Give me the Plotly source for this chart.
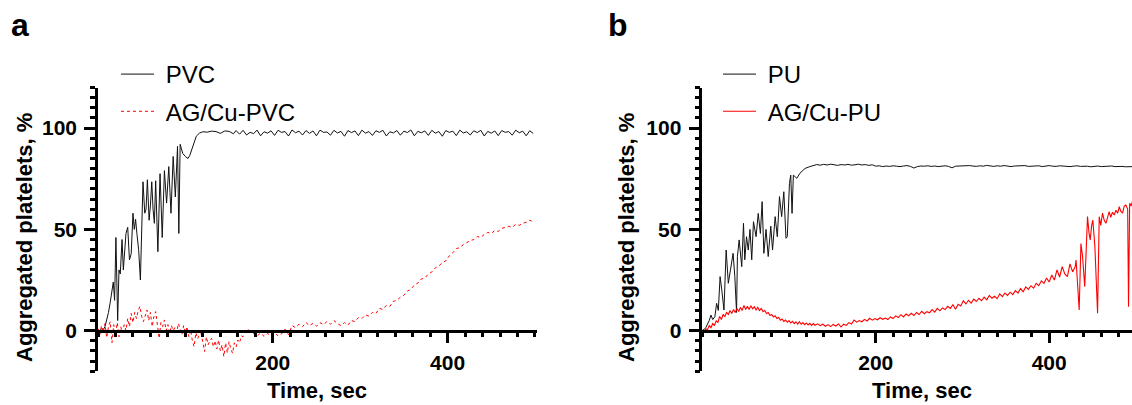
import plotly.graph_objects as go

# ---------------- data ----------------
# Panel a: PVC (black)
PVC_T = [0, 2, 4, 6, 8, 10, 12, 14, 16, 17.5, 19, 20.5, 22.5, 24, 25.5, 27.5, 29, 30.5, 32, 34,
         36, 38, 40, 41.5, 43, 44.5, 46.5, 48.5, 50, 51.5, 53.5, 55, 56.5, 58.5, 60, 61.5, 63,
         64.5, 66, 68.5, 71, 73.5, 76, 78.5, 81, 83.5, 86, 88.5, 91, 92.5, 94, 97, 100, 103,
         105, 107.5, 110, 112.5, 116, 120, 125, 130, 135, 140, 145, 150, 155, 158] + list(range(162, 500, 4))
PVC_V = [0.5, 0, 1, 0.5, 2, 5, 9, 14, 20, 24, 15, 46, 5, 30, 28, 45, 30, 38, 48, 51,
         35, 38, 58, 50, 55, 48, 40, 25, 55, 73.5, 58, 60, 74.5, 54.5, 62, 73.5, 60,
         53, 74, 39, 77.5, 46, 79, 63, 81, 58, 86, 66, 91, 48, 92, 87.5, 86, 85,
         86.5, 90, 93, 96, 97.5, 98.2, 98, 98.5, 98.3, 97.4, 98.6, 98.4, 97.2, 98.8,
         97.0, 98.9, 96.6, 97.9, 97.3, 99.0, 96.2, 98.2, 97.5, 98.7, 96.4, 98.9, 97.9, 98.3,
         96.1, 99.1, 97.7, 98.5, 96.6, 98.8, 97.4, 98.6, 96.2, 99.0, 97.9, 98.1, 96.5, 98.9,
         97.6, 98.4, 96.0, 98.8, 97.8, 98.6, 96.3, 99.0, 97.5, 98.3, 96.4, 98.7, 97.9, 98.9,
         96.1, 98.2, 97.6, 98.8, 96.5, 98.5, 97.8, 99.1, 96.2, 98.4, 97.7, 98.6, 96.4, 98.9,
         97.5, 98.3, 96.0, 98.8, 97.9, 98.5, 96.3, 99.0, 97.6, 98.2, 96.6, 98.7, 97.8, 98.9,
         96.1, 98.4, 97.5, 98.6, 96.3, 98.8, 97.9, 98.3, 96.5, 99.0, 97.7, 98.5, 96.2, 98.7,
         97.4]

# Panel a: AG/Cu-PVC (red dotted)
AGPVC_T = list(range(0, 178, 2)) + list(range(178, 500, 4))
AGPVC_V = [1, -2, 2.5, -1, 3.5, -3.5, 2, 4.5, -6, 3, -2, 4, -3, 2, -1, 3, 0, 6, 2, 8.5,
           4, 9, 6, 10, 12, 7, 4.5, 8, 10.2, 5, 9, 2, 7, 9.4, 3, -3.8, 4, 2, 5.3, 0,
           3, -1.3, 2.5, 0, 1.5, -1, 3.6, 0.5, -2, 2.5, -1, 2, -3, 0.5, -5, -7.9, -1, -4,
           -2, -1.3, -6, -10.3, -3, -7, -5, -3.8, -8, -5, -9, -4.6, -10, -7, -12.8, -6,
           -11, -5.4, -9, -11.2, -6, -8, -4.6, -6, -2.5, -3, -0.5, -1.5, 0.5, -1, 0.3,
           -1.5, -2.6, -1.2, -2.8, -1.4, -2.4, -0.8, -2.6, -1.6, 0.8, -2.0, 2.5, 1.5, 3.2, 2.0,
           4.0, 2.5, 3.6, 2.2, 4.0, 3.0, 4.5, 3.2, 5.0, 3.5, 2.5, 4.0, 2.8, 5.0, 4.5, 6.5,
           6.0, 7.8, 7.2, 9.0, 8.5, 11.0, 10.5, 12.5, 12.0, 14.5, 15.0, 16.5, 17.5, 19.5,
           20.5, 22.5, 23.5, 25.5, 26.0, 28.0, 29.0, 31.0, 32.0, 33.5, 34.5, 37.0, 38.5,
           40.5, 41.0, 42.5, 43.5, 44.5, 45.0, 46.5, 46.0, 47.5, 48.5, 48.0, 49.5, 49.0,
           50.5, 51.0, 51.5, 51.0, 52.5, 52.0, 53.0, 53.5, 54.5, 53.8]

# Panel b: PU (black)
PU_T = [0, 2, 4, 6, 8, 10, 12, 14.5, 16.5, 18.5, 20.5, 22.5, 25, 27.5, 30, 32.5, 35.5, 37.5,
        39.5, 40.5, 42.5, 45.5, 47.5, 49, 51, 53, 55, 57, 59, 62, 64.5, 67, 69, 71, 73.5, 76,
        79, 81, 84, 86.5, 89, 91.5, 94, 96.5, 98, 100.5, 102, 103.5, 105, 107, 109, 112.5,
        118.5, 124] + list(range(128, 500, 4))
PU_V = [0.3, 0.5, 1.5, 3, 5, 7.7, 5.5, 6.9, 13.5, 10, 26.7, 20, 10.2, 39.8, 23.4, 30, 38.2, 26.7,
        9, 36.6, 44.8, 31.6, 53, 35, 46.4, 39.8, 50, 35, 53.8, 46.4, 57.9, 48, 63.7, 38.2, 50, 36.6,
        51.6, 39.8, 56.3, 46.4, 66.2, 56.3, 68.6, 45.6, 46.4, 72.7, 76.8, 57.9, 76.8, 76, 75.2, 77.7,
        80.1, 81,
        81.5, 82.0, 81.7, 82.1, 81.8, 82.2, 81.9, 81.6, 82.0, 81.8, 82.1, 81.7, 81.9, 82.2, 81.8,
        82.0, 81.6, 81.9,
        81.2, 81.4, 81.0, 81.3, 81.1, 81.4, 81.2, 81.0, 81.3, 81.5, 81.1, 80.3, 81.0, 81.3, 81.2,
        81.4, 81.1, 81.3, 81.0, 81.2, 81.4, 81.1, 80.4, 81.2, 81.3,
        81.4, 81.2, 81.5, 81.3, 81.1, 81.4, 81.2, 81.6, 81.3, 81.1, 81.4, 81.2, 81.5, 81.3, 81.0,
        81.3, 81.4, 81.2, 81.5, 81.1, 81.3, 81.2, 81.4, 81.0, 81.3, 81.5, 81.2, 81.1, 81.4, 81.2,
        81.3, 81.0, 81.2, 81.4, 81.1, 81.3, 81.2, 80.9, 81.2, 81.3, 81.0, 81.2, 81.1, 81.3, 81.0,
        81.2, 81.1, 80.9, 81.1, 81.0]

# Panel b: AG/Cu-PU (red solid)
AGPU_T = list(range(0, 132, 2)) + list(range(133, 431, 3)) + [
    431, 432.7, 434.6, 436.6, 438.5, 441, 442.5, 444.2, 446, 447.3, 449, 450.3, 452.7, 455.8,
    457.7, 459.5, 461.5, 463.5, 465.4, 467.5, 469.2, 471, 473, 475, 477, 479, 480.8, 482.5,
    484.6, 486.5, 488.4, 490.5, 491.5, 492.8, 494.5, 496.5]
AGPU_V = [0, -0.5, 1, 0.5, 2.5, 1.5, 3.5, 2.5, 5, 4, 7, 5.5, 8, 7, 9, 8, 10, 8.5, 10.5, 9,
          11, 9.5, 11.5, 10, 12.5, 10.5, 12, 10.5, 12.3, 10.8, 11.8, 10.2, 11.5, 10, 11, 9.5,
          10, 8.5, 9, 7.5, 8, 6.8, 7.4, 6, 6.5, 5.2, 5.8, 4.6, 5.3, 4.2, 5, 3.8, 4.6, 3.5,
          4.4, 3.3, 4.4, 3.2, 4, 3, 3.8, 2.8, 3.6, 2.6, 3.5, 2.7,
          3.4, 2.5, 3.2, 2.2, 3.0, 2.0, 3.1, 2.3, 3.3, 1.8,
          3.2, 2.6, 4.0, 3.3, 5.2, 4.2, 5.0, 4.4, 5.6, 4.8, 6.1, 5.2, 6.0,
          5.4, 6.4, 5.6, 6.2, 5.5, 6.8, 6.0, 7.3, 6.5, 7.9, 6.8, 8.2, 7.4,
          8.6, 7.5, 9.0, 8.0, 9.6, 8.4, 9.4, 8.8, 10.4, 9.2, 11.0, 9.8, 11.2,
          10.4, 12.0, 11.0, 12.8, 10.6, 13.0, 12.2, 14.8, 13.2, 15.0, 13.6, 15.6, 14.4,
          16.0, 14.8, 16.6, 15.2, 17.4, 16.0, 17.0, 15.8, 18.2, 16.8, 18.6, 17.4, 19.0,
          17.8, 19.8, 18.6, 20.8, 19.2, 21.6, 20.4, 22.2, 21.0, 23.4, 22.2, 24.6, 23.4,
          26.0, 24.0, 27.5, 25.0, 30.0, 26.5, 31.6, 28.0, 26.7, 33.0, 29.0, 31.6,
          34.9, 21.7, 10.2, 43, 36.6, 21.7, 40, 56.3, 48, 44.8, 52, 54.6, 41.5, 8.6,
          56.3, 52, 58, 54.5, 53, 57, 58.8, 56, 58.5, 57.1, 59.5, 58, 61.2, 59,
          58, 61.5, 62, 60, 11.8, 62.9, 61.5, 64.5]

X_TICKS = [200, 400]
Y_TICKS = [0, 50, 100]
Y_TITLE = "Aggregated platelets, %"
X_TITLE = "Time, sec"
NBSP = "\u00a0"

# ---------------- figure ----------------
W, H = 1132, 405
FONT = "Liberation Sans, Arial, Helvetica, sans-serif"

def px_x(p):
    return p / W

def px_y(p):
    return 1 - p / H

fig = go.Figure()
fig.add_trace(go.Scatter(x=PVC_T, y=PVC_V, mode="lines", name=NBSP + "PVC",
                         line=dict(color="#111111", width=1), xaxis="x", yaxis="y",
                         legend="legend", legendgroup="a1"))
fig.add_trace(go.Scatter(x=AGPVC_T, y=AGPVC_V, mode="lines", name=NBSP + "AG/Cu-PVC",
                         line=dict(color="#ff0000", width=1, dash="dot"), xaxis="x", yaxis="y",
                         legend="legend", legendgroup="a2"))
fig.add_trace(go.Scatter(x=PU_T, y=PU_V, mode="lines", name=NBSP + "PU",
                         line=dict(color="#111111", width=1), xaxis="x2", yaxis="y2",
                         legend="legend2", legendgroup="b1"))
fig.add_trace(go.Scatter(x=AGPU_T, y=AGPU_V, mode="lines", name=NBSP + "AG/Cu-PU",
                         line=dict(color="#ff0000", width=1.1), xaxis="x2", yaxis="y2",
                         legend="legend2", legendgroup="b2"))

ydom = [px_y(371.2), px_y(87.6)]
y0pos = px_y(330.7)
tickfont = dict(family=FONT, size=21, color="black", weight="bold")

def xaxis(domain, rng):
    return dict(domain=domain, range=rng, anchor="free", position=y0pos,
                showline=True, linewidth=2.5, linecolor="black", mirror=False,
                ticks="outside", ticklen=11, tickwidth=2.5, tickcolor="black",
                tickmode="array", tickvals=X_TICKS, ticktext=[str(v) for v in X_TICKS],
                tickfont=tickfont, showgrid=False, zeroline=False, ticklabelstandoff=1,
                minor=dict(tickmode="linear", tick0=0, dtick=20, ticks="outside",
                           ticklen=5, tickwidth=2.5, tickcolor="black", showgrid=False))

def yaxis(anchor):
    return dict(domain=ydom, range=[-20, 120], anchor=anchor,
                showline=True, linewidth=2.5, linecolor="black",
                ticks="outside", ticklen=11, tickwidth=2.5, tickcolor="black",
                tickmode="array", tickvals=Y_TICKS, ticktext=[str(v) for v in Y_TICKS],
                tickfont=tickfont, showgrid=False, zeroline=False, ticklabelstandoff=3,
                minor=dict(tickmode="linear", tick0=0, dtick=5, ticks="outside",
                           ticklen=5, tickwidth=2.5, tickcolor="black", showgrid=False))

legfont = dict(family=FONT, size=24, color="black")
fig.update_layout(
    width=W, height=H, margin=dict(l=0, r=0, t=0, b=0),
    paper_bgcolor="white", plot_bgcolor="white",
    xaxis=xaxis([px_x(98), px_x(536.7)], [0, 502]),
    yaxis=yaxis("x"),
    xaxis2=xaxis([px_x(702.3), 1.0], [0, 495.5]),
    yaxis2=yaxis("x2"),
    legend=dict(x=px_x(116), y=px_y(52), xanchor="left", yanchor="top", font=legfont,
                bgcolor="rgba(0,0,0,0)", tracegroupgap=3, traceorder="grouped", itemwidth=33),
    legend2=dict(x=px_x(718), y=px_y(52), xanchor="left", yanchor="top", font=legfont,
                 bgcolor="rgba(0,0,0,0)", tracegroupgap=3, traceorder="grouped", itemwidth=33),
    showlegend=True,
)

titlefont = dict(family=FONT, size=22, color="black", weight="bold")
ann = [
    dict(text=Y_TITLE, x=px_x(24), y=px_y(238), textangle=-90, font=titlefont, yanchor="middle"),
    dict(text=Y_TITLE, x=px_x(626), y=px_y(238), textangle=-90, font=titlefont, yanchor="middle"),
    dict(text=X_TITLE, x=px_x(317), y=0.0, font=titlefont, yanchor="bottom"),
    dict(text=X_TITLE, x=px_x(922), y=0.0, font=titlefont, yanchor="bottom"),
    dict(text="a", x=px_x(9), y=px_y(25), xanchor="left", yanchor="middle",
         font=dict(family=FONT, size=32, color="black", weight="bold")),
    dict(text="b", x=px_x(606), y=px_y(25), xanchor="left", yanchor="middle",
         font=dict(family=FONT, size=32, color="black", weight="bold")),
]
for a in ann:
    a.setdefault("xanchor", "center")
    a.update(xref="paper", yref="paper", showarrow=False)
fig.update_layout(annotations=ann)

fig.write_html("out.html", config={"displayModeBar": False},
               post_script="document.body.style.margin='0';document.body.style.padding='0';document.body.style.overflow='hidden';")
